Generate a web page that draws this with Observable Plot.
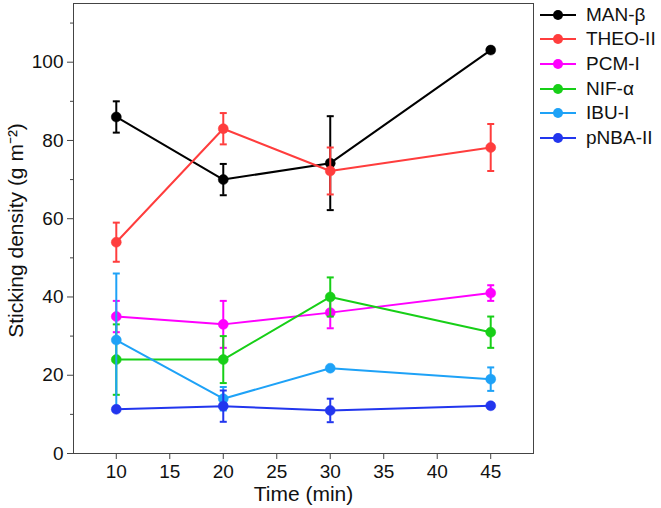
<!DOCTYPE html>
<html><head><meta charset="utf-8">
<script src="https://cdn.jsdelivr.net/npm/d3@7"></script>
<script src="https://cdn.jsdelivr.net/npm/@observablehq/plot@0.6"></script>
<style>
body{margin:0;background:#fff}
#wrap{position:relative;width:661px;height:508px;font-family:"Liberation Sans",Arial,sans-serif}
#legend{position:absolute;left:538px;top:2.5px}
.row{display:flex;align-items:center;height:24.6px;font-size:19px;color:#111}
.row svg{display:block}
</style>
</head><body><div id="wrap"><div id="legend"></div></div>
<script>
const times = [10, 20, 30, 45];
const series = ["MAN-β", "THEO-II", "PCM-I", "NIF-α", "IBU-I", "pNBA-II"];
const colors = ["#000000", "#ff3d3d", "#ff00ff", "#17cf17", "#1ea2f7", "#2236ee"];
const manMean = [86, 70, 74.2, 103.1];
const manErr = [4, 4, 12, 0.7];
const theoMean = [54, 83, 72.2, 78.2];
const theoErr = [5, 4, 6, 6];
const pcmMean = [35, 33, 36, 41];
const pcmErr = [4, 6, 4, 2];
const nifMean = [24, 24, 40, 31];
const nifErr = [9, 6, 5, 4];
const ibuMean = [29, 14, 21.8, 19];
const ibuErr = [17, 3, 0.5, 3];
const pnbaMean = [11.3, 12.1, 11, 12.2];
const pnbaErr = [0.5, 4, 3, 0.5];
const yMajor = [0, 20, 40, 60, 80, 100];
const yMinor = [10, 30, 50, 70, 90, 110];
const xTicks = [10, 15, 20, 25, 30, 35, 40, 45];

const means = [manMean, theoMean, pcmMean, nifMean, ibuMean, pnbaMean];
const errs = [manErr, theoErr, pcmErr, nifErr, ibuErr, pnbaErr];
const rows = [];
series.forEach((s, i) => times.forEach((t, j) => rows.push({
  series: s, t, y: means[i][j], lo: means[i][j] - errs[i][j], hi: means[i][j] + errs[i][j]
})));

const cap = {draw(ctx, size) { const w = Math.sqrt(size / Math.PI); ctx.moveTo(-w, 0); ctx.lineTo(w, 0); }};

const marks = [
  Plot.frame({stroke: "#444", strokeWidth: 1}),
  Plot.axisX({ticks: xTicks, tickSize: 6, tickPadding: 5, label: null, stroke: "#444", fill: "#111", fontSize: 19}),
  Plot.axisY({ticks: yMajor, tickSize: 6, tickPadding: 4, label: null, stroke: "#444", fill: "#111", fontSize: 19}),
  Plot.axisY({ticks: yMinor, tickSize: 3, tickFormat: () => "", label: null, stroke: "#444"}),
  Plot.text(["Time (min)"], {frameAnchor: "bottom", dy: 41, dx: 0, lineAnchor: "middle", fontSize: 21, fill: "#111"}),
  Plot.text(["Sticking density (g m⁻²)"], {frameAnchor: "left", dx: -57, dy: 2, rotate: -90, lineAnchor: "middle", textAnchor: "middle", fontSize: 21, fill: "#111"})
];
series.forEach((s, i) => {
  const d = rows.filter(r => r.series === s);
  marks.push(
    Plot.line(d, {x: "t", y: "y", stroke: colors[i], strokeWidth: 2}),
    Plot.ruleX(d, {x: "t", y1: "lo", y2: "hi", stroke: colors[i], strokeWidth: 2}),
    Plot.dot(d, {x: "t", y: "hi", symbol: cap, r: 3.5, stroke: colors[i], strokeWidth: 2, fill: "none"}),
    Plot.dot(d, {x: "t", y: "lo", symbol: cap, r: 3.5, stroke: colors[i], strokeWidth: 2, fill: "none"}),
    Plot.dot(d, {x: "t", y: "y", r: 5, fill: colors[i], stroke: colors[i], strokeWidth: 0.5})
  );
});

const chart = Plot.plot({
  width: 661, height: 508,
  marginLeft: 73, marginRight: 128, marginTop: 3, marginBottom: 55,
  style: {fontFamily: "'Liberation Sans', Arial, sans-serif", fontSize: "19px", background: "#fff"},
  x: {domain: [6, 49]},
  y: {domain: [0, 115]},
  marks
});
const wrap = document.getElementById("wrap");
wrap.insertBefore(chart, wrap.firstChild);

const legend = document.getElementById("legend");
series.forEach((s, i) => {
  const row = document.createElement("div");
  row.className = "row";
  row.innerHTML = `<svg width="48" height="24"><line x1="2" x2="38" y1="12" y2="12" stroke="${colors[i]}" stroke-width="2"/><circle cx="20" cy="12" r="5" fill="${colors[i]}"/></svg><span>${s}</span>`;
  legend.appendChild(row);
});
</script></body></html>
